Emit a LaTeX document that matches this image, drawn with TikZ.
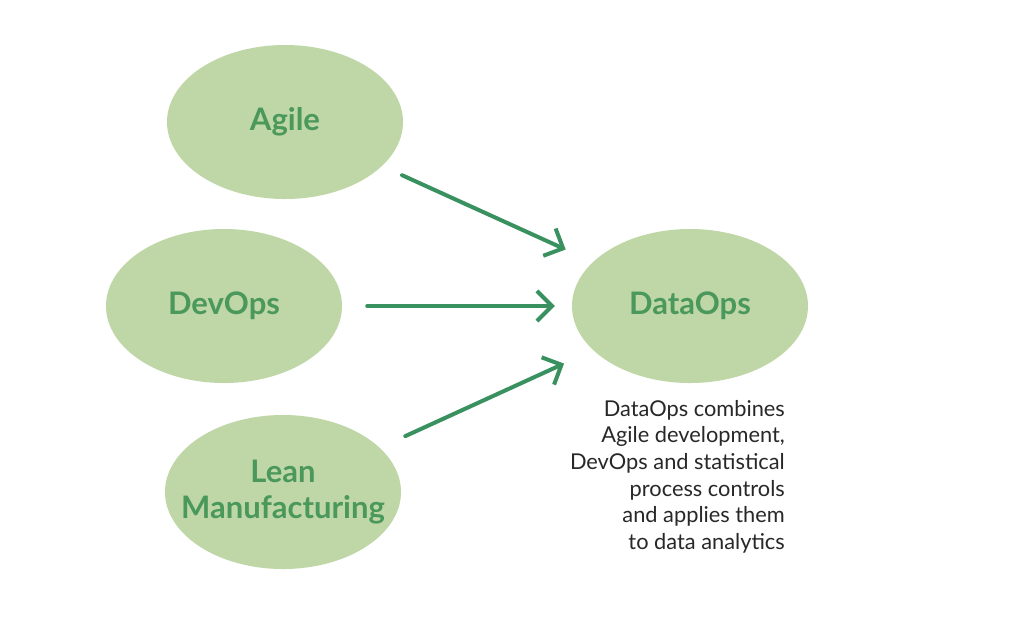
\documentclass[tikz,border=0pt]{standalone}
\usepackage{fontspec}
\setmainfont{Lato}
\usepackage{tikz}
\usetikzlibrary{shapes}
\usetikzlibrary{arrows.meta}
\usetikzlibrary{positioning}

\definecolor{blobfill}{RGB}{191,215,166}
\definecolor{blobtext}{RGB}{74,152,92}
\definecolor{arrowgreen}{RGB}{58,145,96}
\definecolor{notegray}{RGB}{40,40,40}

\tikzset{
  blob/.style={ellipse, fill=blobfill, minimum width=236pt, minimum height=154pt,
    inner sep=0pt, text=blobtext, align=center,
    font=\fontsize{31}{36}\selectfont\bfseries},
  feed/.style={draw=arrowgreen, line width=4pt, line cap=round,
    -{Straight Barb[length=15pt,width=30pt,line width=4pt]}},
  note/.style={text=notegray, align=right, inner sep=0pt,
    font=\fontsize{21.8}{26.6}\selectfont}
}

\begin{document}
\begin{tikzpicture}[x=1pt,y=-1pt]
  \useasboundingbox[fill=white] (0,0) rectangle (1024,641);
  % the three sources
  \node[blob] (agile) at (285,122) {Agile};
  \node[blob] (devops) at (224,306) {DevOps};
  \node[blob, inner xsep=-45pt, inner ysep=-20pt] (lean) at (283,492) {Lean\\Manufacturing};
  % the result
  \node[blob] (dataops) at (690,306) {DataOps};
  \node[note, anchor=north east] (caption) at (785,400)
    {DataOps combines\\Agile development,\\DevOps and statistical\\process controls\\and applies them\\to data analytics};
  % arrows
  \draw[feed, shorten <=22pt, shorten >=30pt] (agile) -- (dataops);
  \draw[feed, shorten <=25pt, shorten >=17pt] (devops) -- (dataops);
  \draw[feed, shorten <=28pt, shorten >=32pt] (lean) -- (dataops);
\end{tikzpicture}
\end{document}
